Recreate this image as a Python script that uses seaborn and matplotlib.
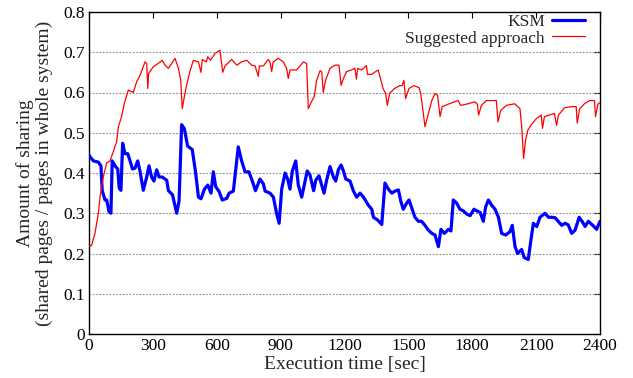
import matplotlib
matplotlib.use("Agg")
import matplotlib.pyplot as plt
import seaborn as sns
import pandas as pd

# ---- data ----
ksm_time = [0, 5, 21, 44, 56, 62, 75, 83, 94, 103, 109, 122, 135, 142, 150, 158, 169, 182, 193, 204,
            216, 229, 240, 255, 271, 282, 294, 305, 318, 329, 344, 365, 373, 392, 412, 423, 435, 448,
            463, 485, 501, 514, 526, 542, 558, 573, 584, 595, 611, 626, 647, 658, 678, 701, 717, 733,
            751, 767, 782, 803, 819, 827, 850, 866, 881, 893, 905, 921, 933, 944, 955, 971, 983, 999,
            1011, 1025, 1038, 1055, 1065, 1080, 1093, 1104, 1116, 1132, 1148, 1159, 1171, 1184, 1195,
            1206, 1226, 1242, 1257, 1273, 1289, 1312, 1328, 1336, 1356, 1375, 1390, 1406, 1422, 1437,
            1453, 1465, 1476, 1492, 1503, 1516, 1531, 1547, 1562, 1578, 1594, 1610, 1625, 1641, 1653,
            1669, 1688, 1700, 1711, 1727, 1742, 1758, 1774, 1790, 1808, 1821, 1837, 1852, 1863, 1876,
            1891, 1907, 1923, 1938, 1957, 1977, 1988, 2001, 2013, 2032, 2044, 2063, 2076, 2087, 2103,
            2118, 2142, 2158, 2173, 2189, 2204, 2220, 2236, 2251, 2267, 2283, 2302, 2317, 2330, 2345,
            2364, 2384, 2400]
ksm_value = [0.445, 0.44, 0.43, 0.427, 0.418, 0.357, 0.333, 0.333, 0.304, 0.30, 0.43, 0.418, 0.41, 0.362,
             0.357, 0.474, 0.448, 0.448, 0.43, 0.41, 0.412, 0.43, 0.403, 0.357, 0.39, 0.418, 0.39, 0.38,
             0.408, 0.39, 0.39, 0.382, 0.356, 0.346, 0.30, 0.33, 0.52, 0.51, 0.467, 0.458, 0.40, 0.34,
             0.336, 0.36, 0.37, 0.35, 0.403, 0.366, 0.354, 0.333, 0.337, 0.35, 0.355, 0.465, 0.43,
             0.403, 0.403, 0.38, 0.356, 0.385, 0.373, 0.355, 0.35, 0.34, 0.30, 0.275, 0.36, 0.40, 0.385,
             0.36, 0.405, 0.43, 0.37, 0.34, 0.37, 0.405, 0.395, 0.356, 0.382, 0.393, 0.37, 0.35, 0.382,
             0.416, 0.39, 0.38, 0.408, 0.42, 0.405, 0.385, 0.38, 0.355, 0.34, 0.35, 0.34, 0.32, 0.31,
             0.29, 0.283, 0.272, 0.375, 0.36, 0.35, 0.355, 0.358, 0.329, 0.31, 0.325, 0.333, 0.313,
             0.29, 0.28, 0.28, 0.27, 0.258, 0.25, 0.246, 0.217, 0.26, 0.25, 0.26, 0.256, 0.333, 0.325,
             0.31, 0.306, 0.298, 0.294, 0.31, 0.306, 0.302, 0.28, 0.316, 0.333, 0.32, 0.31, 0.29, 0.25,
             0.246, 0.254, 0.27, 0.217, 0.20, 0.21, 0.19, 0.185, 0.235, 0.275, 0.267, 0.29, 0.30, 0.29,
             0.29, 0.289, 0.28, 0.27, 0.275, 0.271, 0.25, 0.258, 0.29, 0.279, 0.267, 0.28, 0.271, 0.26,
             0.28]

sug_time = [0, 12, 28, 44, 52, 67, 83, 99, 114, 130, 138, 153, 166, 185, 208, 224, 240, 263, 271, 276,
            280, 302, 325, 344, 357, 373, 404, 420, 431, 438, 448, 459, 474, 490, 514, 526, 532, 551,
            558, 570, 592, 615, 628, 639, 670, 694, 717, 741, 764, 780, 795, 800, 819, 842, 850, 858,
            865, 889, 913, 928, 936, 944, 975, 1007, 1022, 1030, 1045, 1058, 1069, 1085, 1093, 1100,
            1111, 1132, 1155, 1174, 1184, 1195, 1210, 1233, 1249, 1256, 1262, 1280, 1303, 1308, 1327,
            1358, 1370, 1381, 1393, 1401, 1412, 1435, 1459, 1470, 1479, 1487, 1503, 1526, 1550, 1558,
            1578, 1594, 1610, 1625, 1637, 1649, 1659, 1687, 1718, 1733, 1746, 1780, 1812, 1824, 1830,
            1843, 1866, 1890, 1913, 1921, 1933, 1960, 1999, 2014, 2024, 2033, 2041, 2050, 2061, 2077,
            2101, 2124, 2130, 2139, 2163, 2186, 2196, 2205, 2233, 2265, 2288, 2293, 2304, 2327, 2351,
            2374, 2379, 2390, 2400]
sug_value = [0.217, 0.22, 0.25, 0.30, 0.341, 0.39, 0.425, 0.43, 0.453, 0.478, 0.515, 0.54, 0.573, 0.606,
             0.60, 0.627, 0.643, 0.676, 0.672, 0.61, 0.647, 0.664, 0.672, 0.68, 0.668, 0.66, 0.685,
             0.66, 0.63, 0.56, 0.59, 0.62, 0.652, 0.68, 0.676, 0.65, 0.682, 0.676, 0.689, 0.68, 0.697,
             0.705, 0.65, 0.666, 0.682, 0.668, 0.676, 0.68, 0.668, 0.666, 0.64, 0.666, 0.666, 0.682,
             0.676, 0.652, 0.676, 0.685, 0.676, 0.66, 0.635, 0.656, 0.656, 0.676, 0.672, 0.56, 0.577,
             0.59, 0.63, 0.654, 0.652, 0.60, 0.63, 0.66, 0.668, 0.668, 0.618, 0.635, 0.652, 0.656,
             0.66, 0.633, 0.66, 0.656, 0.667, 0.645, 0.645, 0.656, 0.633, 0.61, 0.598, 0.568, 0.598,
             0.61, 0.617, 0.617, 0.63, 0.585, 0.61, 0.617, 0.612, 0.598, 0.515, 0.548, 0.58, 0.597,
             0.593, 0.54, 0.565, 0.571, 0.577, 0.58, 0.568, 0.572, 0.577, 0.571, 0.544, 0.568, 0.58,
             0.58, 0.58, 0.527, 0.555, 0.568, 0.572, 0.565, 0.56, 0.51, 0.436, 0.48, 0.506, 0.52, 0.535,
             0.544, 0.511, 0.54, 0.544, 0.548, 0.518, 0.544, 0.562, 0.565, 0.565, 0.524, 0.559, 0.572,
             0.58, 0.58, 0.54, 0.571, 0.575]

series_names = ["KSM", "Suggested approach"]
x_ticks = [0, 300, 600, 900, 1200, 1500, 1800, 2100, 2400]
y_ticks = [0, 0.1, 0.2, 0.3, 0.4, 0.5, 0.6, 0.7, 0.8]

# ---- style ----
sns.set_style("white")
plt.rcParams["font.family"] = ["Liberation Serif", "DejaVu Serif"]

fig, ax = plt.subplots(figsize=(6.33, 3.78), dpi=100)
fig.subplots_adjust(left=89 / 633, right=600 / 633, top=1 - 12 / 378, bottom=1 - 334 / 378)

df_ksm = pd.DataFrame({"time": ksm_time, "value": ksm_value})
df_sug = pd.DataFrame({"time": sug_time, "value": sug_value})

sns.lineplot(data=df_ksm, x="time", y="value", ax=ax, color="#0000ff", linewidth=2.3,
             label=series_names[0], zorder=3)
sns.lineplot(data=df_sug, x="time", y="value", ax=ax, color="#ff0000", linewidth=0.9,
             label=series_names[1], zorder=3)

ax.set_xlim(0, 2400)
ax.set_ylim(0, 0.8)
ax.set_xticks(x_ticks)
ax.set_yticks(y_ticks)
ax.set_xticklabels([str(t) for t in x_ticks])
ax.set_yticklabels(["0" if t == 0 else f"{t:.1f}" for t in y_ticks])

for t in y_ticks[1:-1]:
    ax.axhline(t, color="#888888", linestyle=(0, (1.5, 1.5)), linewidth=0.8, zorder=1)

ax.tick_params(direction="in", top=True, right=True, length=4, width=0.8,
               labelsize=12.5, pad=3, colors="black")
for sp in ax.spines.values():
    sp.set_color("black")
    sp.set_linewidth(1.0)

ax.set_xlabel("Execution time [sec]", fontsize=14, labelpad=1)
ax.set_ylabel("Amount of sharing\n(shared pages / pages in whole system)", fontsize=14,
              labelpad=7, linespacing=1.15)

leg = ax.legend(loc="upper right", frameon=False, markerfirst=False, fontsize=12.5,
                handlelength=1.9, handletextpad=0.4, borderaxespad=0.0, borderpad=0.0,
                labelspacing=0.0, bbox_to_anchor=(0.9706, 0.993))
for txt in leg.get_texts():
    txt.set_ha("right")

fig.savefig("out.png", dpi=100)
